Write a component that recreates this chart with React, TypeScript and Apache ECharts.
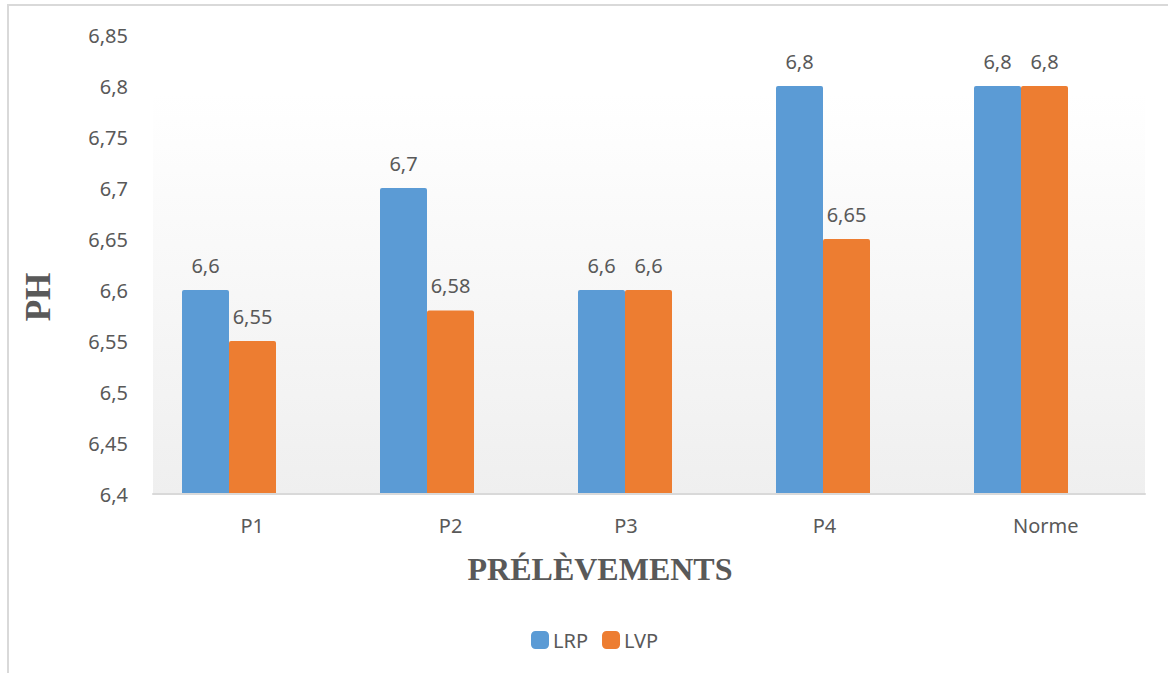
import React, { useEffect, useRef } from "react";
import * as echarts from "echarts";

// pH per sampling point, for the two wastewater types
const categories = ["P1", "P2", "P3", "P4", "Norme"];
const lrpValues = [6.6, 6.7, 6.6, 6.8, 6.8];
const lvpValues = [6.55, 6.58, 6.6, 6.65, 6.8];
const seriesNames = ["LRP", "LVP"];

const Y_MIN = 6.4;
const Y_MAX = 6.85;
const Y_STEP = 0.05;

const TEXT = "#595959";
const SANS = "Noto Sans";
const SERIF = "Liberation Serif";

// labels that sit back under their bar pair
const pulledLabels = new Set(["P3", "P4"]);

const fmt = (v: number) => String(parseFloat(Number(v).toFixed(2))).replace(".", ",");

export default function App() {
  const ref = useRef<HTMLDivElement>(null);

  useEffect(() => {
    if (!ref.current) return;
    const chart = echarts.init(ref.current, undefined, { renderer: "svg" });

    const barLabel = {
      show: true,
      position: "top",
      distance: 15,
      fontFamily: SANS,
      fontSize: 20,
      color: TEXT,
      formatter: (p: any) => fmt(p.value),
    };

    chart.setOption({
      animation: false,
      backgroundColor: "#ffffff",
      textStyle: { fontFamily: SANS, color: TEXT },
      grid: [
        {
          // shaded plot background and base line
          left: 153,
          right: 23,
          top: 94,
          bottom: 179,
          show: true,
          borderWidth: 0,
          backgroundColor: new echarts.graphic.LinearGradient(0, 0, 0, 1, [
            { offset: 0, color: "#ffffff" },
            { offset: 1, color: "#efefef" },
          ]),
        },
        { left: 130, right: 48, top: 35, bottom: 179 },
      ],
      xAxis: [
        {
          type: "category",
          gridIndex: 0,
          data: categories,
          z: 5,
          axisLine: { show: true, lineStyle: { color: "#d9d9d9", width: 2 } },
          axisTick: { show: false },
          axisLabel: {
            margin: 21,
            formatter: (v: string) => (pulledLabels.has(v) ? `{pull|${v}}` : `{base|${v}}`),
            rich: {
              base: { fontFamily: SANS, fontSize: 20, color: TEXT },
              pull: { fontFamily: SANS, fontSize: 20, color: TEXT, padding: [0, 46, 0, 0] },
            },
          },
        },
        {
          type: "category",
          gridIndex: 1,
          data: categories,
          axisLine: { show: false },
          axisTick: { show: false },
          axisLabel: { show: false },
        },
      ],
      yAxis: [
        {
          type: "value",
          gridIndex: 0,
          show: false,
          min: Y_MIN,
          max: Y_MAX,
        },
        {
          type: "value",
          gridIndex: 1,
          min: Y_MIN,
          max: Y_MAX,
          interval: Y_STEP,
          axisLine: { show: false },
          axisTick: { show: false },
          splitLine: { show: false },
          axisLabel: {
            margin: 2,
            fontFamily: SANS,
            fontSize: 20,
            color: TEXT,
            formatter: (v: number) => fmt(v),
          },
        },
      ],
      legend: {
        data: seriesNames,
        bottom: 18,
        left: 526,
        itemWidth: 18,
        itemHeight: 18,
        itemGap: 14,
        icon: "roundRect",
        textStyle: { fontFamily: SANS, fontSize: 20, color: TEXT, padding: [0, 0, 0, -1] },
      },
      series: [
        {
          name: seriesNames[0],
          type: "bar",
          xAxisIndex: 1,
          yAxisIndex: 1,
          data: lrpValues,
          barWidth: 47,
          barGap: "0%",
          itemStyle: { color: "#5b9bd5", borderRadius: [2, 2, 0, 0] },
          label: barLabel,
        },
        {
          name: seriesNames[1],
          type: "bar",
          xAxisIndex: 1,
          yAxisIndex: 1,
          data: lvpValues,
          barWidth: 47,
          barGap: "0%",
          itemStyle: { color: "#ed7d31", borderRadius: [2, 2, 0, 0] },
          label: barLabel,
        },
      ],
      graphic: [
        {
          type: "rect",
          shape: { x: 8, y: 5, width: 1180, height: 690 },
          style: { fill: "none", stroke: "#d9d9d9", lineWidth: 2 },
          silent: true,
          z: -1,
        },
        {
          type: "text",
          x: 38,
          y: 297,
          rotation: Math.PI / 2,
          style: {
            text: "PH",
            fontFamily: SERIF,
            fontWeight: "bold",
            fontSize: 35,
            fill: TEXT,
            align: "center",
            verticalAlign: "middle",
          },
        },
        {
          type: "text",
          x: 600,
          y: 569,
          style: {
            text: "PRÉLÈVEMENTS",
            fontFamily: SERIF,
            fontWeight: "bold",
            fontSize: 32,
            fill: TEXT,
            align: "center",
            verticalAlign: "middle",
          },
        },
      ],
    });

    return () => chart.dispose();
  }, []);

  return (
    <div
      ref={ref}
      style={{ position: "absolute", left: 0, top: 0, width: 1168, height: 673 }}
    />
  );
}
